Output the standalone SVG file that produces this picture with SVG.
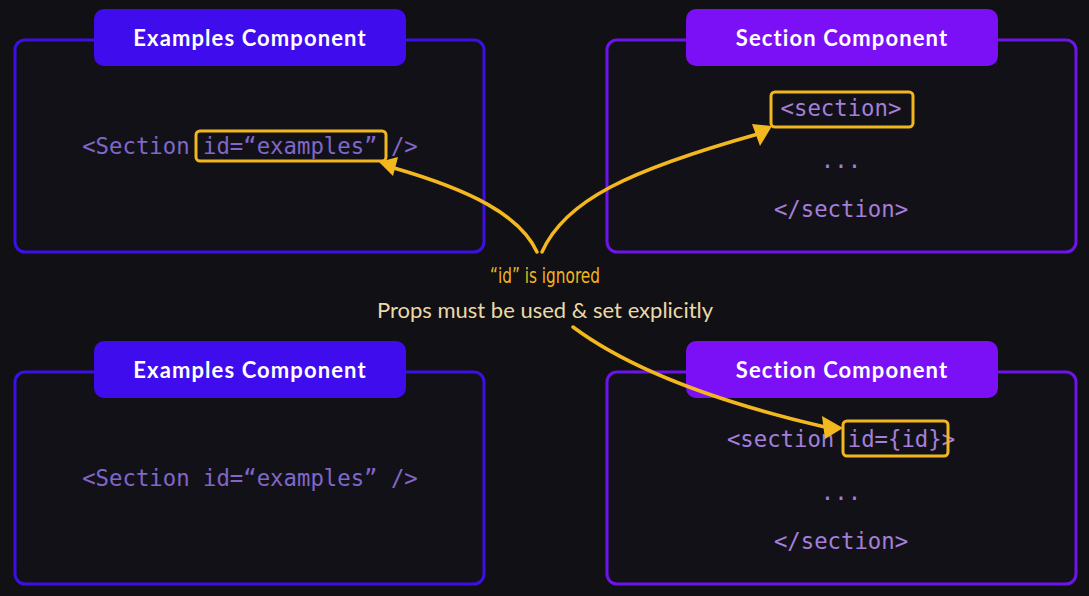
<svg xmlns="http://www.w3.org/2000/svg" width="1089" height="596" viewBox="0 0 1089 596">
<style>
.frameL{fill:#131118;stroke:#3c10e4;stroke-width:3}
.frameR{fill:#131118;stroke:#6c14ea;stroke-width:3}
.hdrL{fill:#3f0ced}
.hdrR{fill:#7b10f6}
.title{font-family:"Lato","Noto Sans",sans-serif;font-weight:bold;font-size:22px;letter-spacing:1.1px;fill:#ffffff;text-anchor:middle}
.codeL{font-family:"DejaVu Sans Mono","Liberation Mono",monospace;font-size:22.3px;fill:#8067c8;text-anchor:middle}
.codeR{font-family:"DejaVu Sans Mono","Liberation Mono",monospace;font-size:22.3px;fill:#a47fd9;text-anchor:middle}
.hl{fill:none;stroke:#f2b61e;stroke-width:3}
.arr{fill:none;stroke:#f4b81f;stroke-width:3.5;stroke-linecap:round}
.head{fill:#f4b81f}
</style>
<rect width="1089" height="596" fill="#111015"/>
<g id="examples-top">
<rect class="frameL" x="15" y="40" width="469" height="212" rx="10"/>
<rect class="hdrL" x="94" y="9" width="312" height="57" rx="10"/>
<text class="title" x="250" y="46">Examples Component</text>
<text class="codeL" x="250" y="154">&lt;Section id=“examples” /&gt;</text>
<rect class="hl" x="196" y="131" width="190" height="30" rx="4"/>
</g>
<g id="section-top">
<rect class="frameR" x="607" y="40" width="469" height="212" rx="10"/>
<rect class="hdrR" x="686" y="9" width="312" height="57" rx="10"/>
<text class="title" x="842" y="46">Section Component</text>
<text class="codeR" x="841" y="116">&lt;section&gt;</text>
<rect class="hl" x="771" y="92" width="142" height="35" rx="4"/>
<text class="codeR" x="841" y="168">...</text>
<text class="codeR" x="841" y="217">&lt;/section&gt;</text>
</g>
<g id="examples-bottom">
<rect class="frameL" x="15" y="372" width="469" height="212" rx="10"/>
<rect class="hdrL" x="94" y="341" width="312" height="57" rx="10"/>
<text class="title" x="250" y="378">Examples Component</text>
<text class="codeL" x="250" y="486">&lt;Section id=“examples” /&gt;</text>
</g>
<g id="section-bottom">
<rect class="frameR" x="607" y="372" width="469" height="212" rx="10"/>
<rect class="hdrR" x="686" y="341" width="312" height="57" rx="10"/>
<text class="title" x="842" y="378">Section Component</text>
<text class="codeR" x="841" y="447">&lt;section id={id}&gt;</text>
<rect class="hl" x="843" y="421" width="105" height="35" rx="4"/>
<text class="codeR" x="841" y="500">...</text>
<text class="codeR" x="841" y="549">&lt;/section&gt;</text>
</g>
<g id="labels">
<text x="545" y="283" font-family="'DejaVu Sans Condensed','Noto Sans',sans-serif" font-size="21" fill="#f2b61e" text-anchor="middle" textLength="110" lengthAdjust="spacingAndGlyphs">“id” is ignored</text>
<text x="545" y="318" font-family="Lato,'Noto Sans',sans-serif" font-size="22" fill="#ead9a8" text-anchor="middle">Props must be used &amp; set explicitly</text>
</g>
<g id="connectors">
<path class="arr" d="M537,252 C520,215 470,190 394,168"/>
<polygon class="head" points="379,162 398,157 393,176"/>
<path class="arr" d="M542,252 C565,200 630,170 758,134"/>
<polygon class="head" points="772,126 752,124 760,146"/>
<path class="arr" d="M573,327 C620,362 700,398 825,427"/>
<polygon class="head" points="843,428 822,416 825,439"/>
</g>
</svg>
